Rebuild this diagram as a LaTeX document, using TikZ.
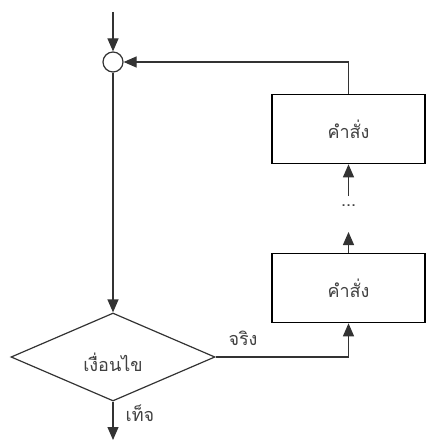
\documentclass[tikz,border=0pt]{standalone}
\usepackage{fontspec}
\newfontfamily\thaifont[Script=Thai]{Loma}
\usetikzlibrary{shapes.geometric,arrows.meta}
\begin{document}
\begin{tikzpicture}[x=1pt,y=-1pt,
  line/.style={draw=black!80,line width=1.2pt},
  arr/.style={line,-{Triangle[width=11pt,length=13pt]}},
  procbox/.style={draw=black,line width=1.6pt,minimum width=153pt,minimum height=69pt,inner sep=0pt},
  lbl/.style={font=\thaifont\fontsize{18}{22}\selectfont,text=black!75}]
\useasboundingbox (0,0) rectangle (428,444);
\node[circle,draw=black!80,line width=1.2pt,minimum size=20pt,inner sep=0pt] (c) at (113,62) {};
\coordinate (top) at (113,12);
\node[diamond,draw=black!80,line width=1.2pt,minimum width=204pt,minimum height=88pt,inner sep=0pt,aspect=2.3] (d) at (113,357) {};
\node[lbl] (dt) at (113,362) {เงื่อนไข};
\node[procbox,lbl] (b1) at (348.5,288) {คำสั่ง};
\node[procbox,lbl] (b2) at (348.5,129) {คำสั่ง};
\coordinate (r) at (348.5,62);
\coordinate (a1) at (348.5,232);
\coordinate (a2) at (348.5,196);
\node[lbl] (dots) at (348.5,206) {...};
\coordinate (dc) at (348.5,357);
\coordinate (bot) at (113,440);
\node[lbl] (t) at (243,338) {จริง};
\node[lbl] (f) at (140,413) {เท็จ};
\draw[arr] (top) -- (c.north);
\draw[arr] (c.south) -- (d.north);
\draw[arr] (b2.north) -- (r) -- (c.east);
\draw[arr] (b1.north) -- (a1);
\draw[arr] (a2) -- (b2.south);
\draw[arr] (d.east) -- (dc) -- (b1.south);
\draw[arr] (d.south) -- (bot);
\end{tikzpicture}
\end{document}
